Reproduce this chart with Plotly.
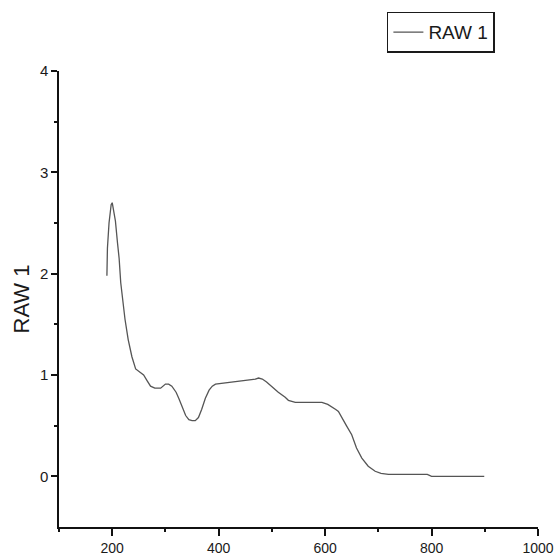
import plotly.graph_objects as go

wavelength = [190, 191, 194, 198, 200, 203, 206, 210, 213, 216, 220, 224, 230, 237, 244,
              252, 259, 266, 272, 280, 291, 300, 306, 312, 320, 325, 332, 338, 344, 350,
              356, 362, 368, 375, 382, 388, 394, 410, 431, 450, 469, 475, 482, 490, 500,
              512, 525, 531, 544, 570, 594, 605, 612, 620, 625, 631, 640, 650, 659, 669,
              681, 694, 705, 719, 792, 800, 899]
raw1 = [1.98, 2.25, 2.50, 2.68, 2.70, 2.62, 2.52, 2.30, 2.15, 1.91, 1.70, 1.55, 1.35, 1.18, 1.06,
        1.03, 1.00, 0.94, 0.89, 0.87, 0.87, 0.91, 0.91, 0.89, 0.83, 0.77, 0.68, 0.60, 0.56, 0.55,
        0.55, 0.58, 0.66, 0.77, 0.85, 0.89, 0.91, 0.92, 0.94, 0.95, 0.96, 0.97, 0.96, 0.93, 0.88,
        0.83, 0.78, 0.75, 0.73, 0.73, 0.73, 0.71, 0.69, 0.66, 0.64, 0.58, 0.50, 0.41, 0.28, 0.18,
        0.10, 0.05, 0.03, 0.02, 0.02, 0.0, 0.0]

x_ticks = [200, 400, 600, 800, 1000]
y_ticks = [0, 1, 2, 3, 4]

REG = "Liberation Sans, Arial, sans-serif"

fig = go.Figure()
fig.add_trace(go.Scatter(x=wavelength, y=raw1, mode="lines", name="RAW 1",
                         line=dict(color="#555555", width=1.3)))

fig.update_layout(
    width=554, height=560,
    margin=dict(l=59, r=16, t=67, b=33),
    paper_bgcolor="white", plot_bgcolor="white",
    font=dict(family=REG, size=14, color="#1a1a1a"),
    showlegend=True,
    legend=dict(x=0.91, y=1.13, xanchor="right", yanchor="top",
                bordercolor="#1a1a1a", borderwidth=1.5, bgcolor="white",
                font=dict(family=REG, size=19, color="#1a1a1a"),
                itemwidth=30, tracegroupgap=0),
    xaxis=dict(range=[100, 1000], tickvals=x_ticks, ticks="outside", ticklen=7, tickwidth=1.5,
               tickcolor="#111111", showline=True, linecolor="#111111", linewidth=1.5,
               showgrid=False, zeroline=False, automargin=False, ticklabeloverflow="allow",
               tickfont=dict(family=REG, size=14, color="#1a1a1a"),
               minor=dict(tickvals=[100, 300, 500, 700, 900], ticks="outside", ticklen=3,
                          tickcolor="#111111", tickwidth=1.5)),
    yaxis=dict(range=[-0.5, 4], tickvals=y_ticks, ticks="outside", ticklen=6, tickwidth=1.5,
               tickcolor="#111111", showline=True, linecolor="#111111", linewidth=1.5,
               showgrid=False, zeroline=False, automargin=False,
               tickfont=dict(family=REG, size=15, color="#1a1a1a"),
               title=dict(text="RAW 1", font=dict(size=22, family=REG, color="#1a1a1a"),
                          standoff=4),
               minor=dict(tickvals=[0.5, 1.5, 2.5, 3.5], ticks="outside", ticklen=3,
                          tickcolor="#111111", tickwidth=1.5)),
)

fig.write_html("out.html")
